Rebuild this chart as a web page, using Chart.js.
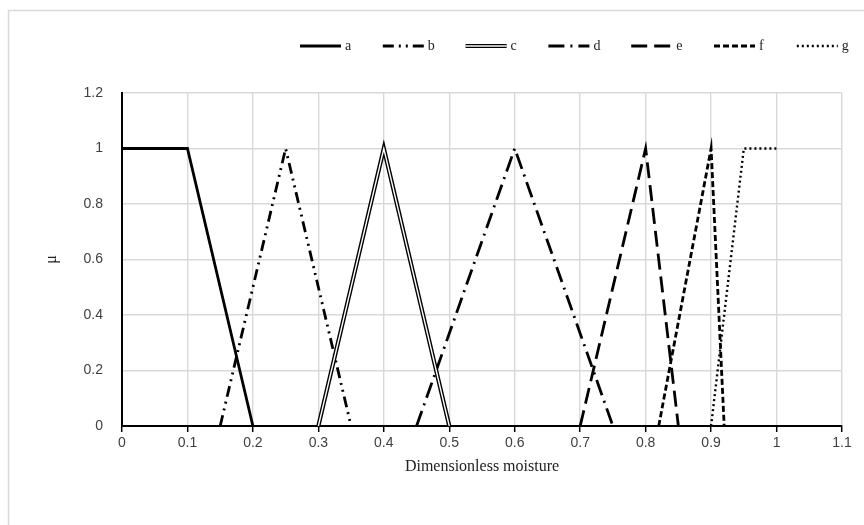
<!DOCTYPE html>
<html><head><meta charset="utf-8">
<script src="https://cdn.jsdelivr.net/npm/chart.js@4"></script>
<style>html,body{margin:0;padding:0;background:#fff}#wrap{width:864px;height:525px;position:relative}</style>
</head><body><div id="wrap"><canvas id="c" width="864" height="525"></canvas></div>
<script>
const seriesNames = ['a','b','c','d','e','f','g'];
const aX = [0, 0.1, 0.2];       const aY = [1, 1, 0];
const bX = [0.15, 0.25, 0.35];  const bY = [0, 1, 0];
const cX = [0.3, 0.4, 0.5];     const cY = [0, 1, 0];
const dX = [0.45, 0.6, 0.75];   const dY = [0, 1, 0];
const eX = [0.7, 0.8, 0.85];    const eY = [0, 1, 0];
const fX = [0.82, 0.9, 0.92];   const fY = [0, 1, 0];
const gX = [0.9, 0.95, 1.0];    const gY = [0, 1, 1];
const xTicks = [0,0.1,0.2,0.3,0.4,0.5,0.6,0.7,0.8,0.9,1,1.1];
const yTicks = [0,0.2,0.4,0.6,0.8,1,1.2];

const pts = (xs, ys) => xs.map((x,i)=>({x, y: ys[i]}));
const styles = {
  a:{w:2.8,dash:[]},
  b:{w:2.8,dash:[11,5,2,5,2,5]},
  c:{w:4.2,dash:[],dbl:true},
  d:{w:2.8,dash:[16,6,2,6]},
  e:{w:2.8,dash:[16,7]},
  f:{w:2.8,dash:[6,3]},
  g:{w:2.4,dash:[2,3]}
};
const data = {a:pts(aX,aY),b:pts(bX,bY),c:pts(cX,cY),d:pts(dX,dY),e:pts(eX,eY),f:pts(fX,fY),g:pts(gX,gY)};
const datasets = [];
seriesNames.forEach(n=>{
  const s = styles[n];
  datasets.push({label:n,data:data[n],borderColor:'#000',borderWidth:s.w,borderDash:s.dash,pointRadius:0,tension:0,fill:false,borderCapStyle:'butt',order:1});
  if (s.dbl) datasets.push({label:'_inner',data:data[n],borderColor:'#fff',borderWidth:1.4,pointRadius:0,tension:0,fill:false,order:0});
});

const legendPlugin = {
  id:'customLegend',
  afterDraw(chart){
    const ctx = chart.ctx;
    ctx.save();
    const y = 46;
    const startX = 300, step = 82.8, lineLen = 41;
    ctx.font = '14px "Liberation Serif", serif';
    ctx.fillStyle = '#222';
    ctx.textBaseline = 'middle';
    seriesNames.forEach((n,i)=>{
      const s = styles[n];
      const x0 = startX + i*step;
      ctx.beginPath();
      ctx.setLineDash(s.dash);
      ctx.strokeStyle = '#000';
      ctx.lineWidth = s.w;
      ctx.moveTo(x0, y); ctx.lineTo(x0+lineLen, y); ctx.stroke();
      if (s.dbl){ ctx.beginPath(); ctx.setLineDash([]); ctx.strokeStyle='#fff'; ctx.lineWidth=1.4; ctx.moveTo(x0, y); ctx.lineTo(x0+lineLen, y); ctx.stroke(); }
      ctx.setLineDash([]);
      ctx.fillText(n, x0+lineLen+4, y);
    });
    ctx.strokeStyle = '#d9d9d9'; ctx.lineWidth = 1.5;
    ctx.strokeRect(8.5, 10.5, 900, 600);
    ctx.restore();
  }
};

new Chart(document.getElementById('c'), {
  type:'line',
  data:{datasets},
  options:{
    responsive:false, animation:false,
    layout:{padding:{left:38,right:22,top:93,bottom:45}},
    plugins:{legend:{display:false},tooltip:{enabled:false}},
    scales:{
      x:{type:'linear',min:0,max:1.1,
        afterBuildTicks(s){ s.ticks = xTicks.map(v=>({value:v})); },
        afterFit(s){ s.height = 54; },
        grid:{color:'#d9d9d9',lineWidth:1.4,drawTicks:true,tickLength:6,tickColor:'#000',tickWidth:1.5},
        border:{color:'#000',width:2},
        ticks:{padding:3,color:'#404040',font:{family:'"Liberation Sans", sans-serif',size:14},callback:v=>String(Number(v.toFixed(1)))},
        title:{display:true,text:'Dimensionless moisture',color:'#222',font:{family:'"Liberation Serif", serif',size:16},padding:{top:2,bottom:4}}
      },
      y:{type:'linear',min:0,max:1.2,
        afterBuildTicks(s){ s.ticks = yTicks.map(v=>({value:v})); },
        afterFit(s){ s.width = 84; },
        grid:{color:'#d9d9d9',lineWidth:1.4,drawTicks:false},
        border:{color:'#000',width:2},
        ticks:{padding:19,color:'#404040',font:{family:'"Liberation Sans", sans-serif',size:14},callback:v=>String(Number(v.toFixed(1)))},
        title:{display:true,text:'μ',color:'#222',font:{family:'"Liberation Serif", serif',size:16},padding:{top:4,bottom:4}}
      }
    }
  },
  plugins:[legendPlugin]
});
</script></body></html>
